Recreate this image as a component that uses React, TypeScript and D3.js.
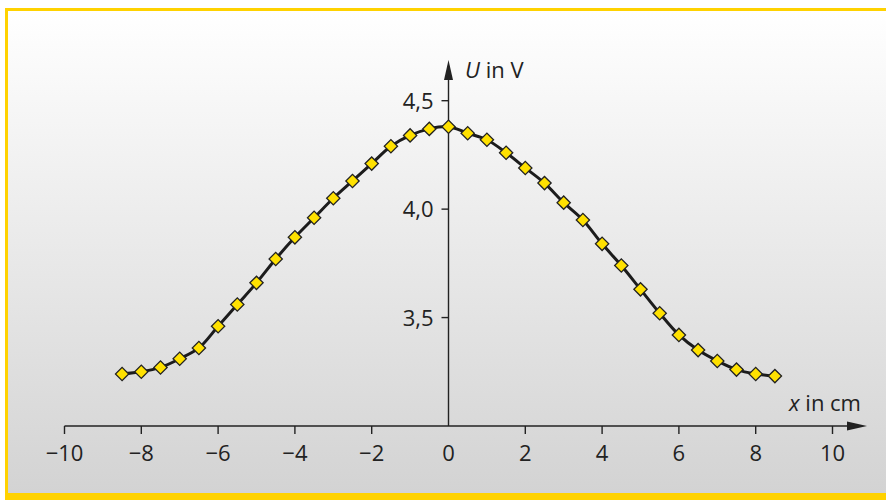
import React from "react";
import * as d3 from "d3";

// Measured potential U along the x axis
const positions = [
  -8.5, -8, -7.5, -7, -6.5, -6, -5.5, -5, -4.5, -4, -3.5, -3, -2.5, -2, -1.5, -1, -0.5,
  0, 0.5, 1, 1.5, 2, 2.5, 3, 3.5, 4, 4.5, 5, 5.5, 6, 6.5, 7, 7.5, 8, 8.5,
];
const voltages = [
  3.24, 3.25, 3.27, 3.31, 3.36, 3.46, 3.56, 3.66, 3.77, 3.87, 3.96, 4.05, 4.13, 4.21, 4.29, 4.34, 4.37,
  4.38, 4.35, 4.32, 4.26, 4.19, 4.12, 4.03, 3.95, 3.84, 3.74, 3.63, 3.52, 3.42, 3.35, 3.30, 3.26, 3.24, 3.23,
];
const xTicks = [-10, -8, -6, -4, -2, 0, 2, 4, 6, 8, 10];
const yTicks = [3.5, 4.0, 4.5];

const W = 886;
const H = 500;
const FONT = "'Open Sans', 'Noto Sans', sans-serif";
const INK = "#222";

export default function App() {
  const x = d3.scaleLinear().domain([-10, 10]).range([64.5, 832.5]);
  const y = d3.scaleLinear().domain([3.0, 4.5]).range([426, 100.7]);

  const pts = positions.map((p, i) => [p, voltages[i]] as [number, number]);
  const line = d3
    .line<[number, number]>()
    .x((d) => x(d[0]))
    .y((d) => y(d[1]))
    .curve(d3.curveCatmullRom.alpha(0.5));

  const diamond = d3.symbol().type(d3.symbolSquare).size(88)()!;
  const fmt = (v: number) => v.toFixed(1).replace(".", ",");
  const fmtX = (v: number) => (v < 0 ? "\u2212" + Math.abs(v) : String(v));

  const x0 = x(0);
  const yAxisBase = y(3.0);
  const yTop = 60;
  const xEnd = 867;

  return (
    <div style={{ position: "absolute", left: 0, top: 0 }}>
      <svg width={W} height={H} style={{ display: "block" }}>
        <defs>
          <linearGradient id="panelBg" x1="0" y1="0" x2="0" y2="1">
            <stop offset="0" stopColor="#ffffff" />
            <stop offset="1" stopColor="#d3d3d3" />
          </linearGradient>
        </defs>
        <rect x={0} y={0} width={W} height={H} fill="#ffffff" />
        <rect x={5} y={8} width={W - 5} height={H - 8} fill="#ffd200" />
        <rect x={8} y={11} width={W - 8} height={482} fill="url(#panelBg)" />

        {/* x axis */}
        <line x1={x(-10)} x2={xEnd - 14} y1={yAxisBase} y2={yAxisBase} stroke={INK} strokeWidth={1.4} />
        <path
          d={`M${xEnd},${yAxisBase} L${xEnd - 20},${yAxisBase - 4.5} L${xEnd - 20},${yAxisBase + 4.5} Z`}
          fill={INK}
        />
        {xTicks.map((t) => (
          <g key={t}>
            {t !== 0 && (
              <line x1={x(t)} x2={x(t)} y1={yAxisBase} y2={yAxisBase + 8} stroke={INK} strokeWidth={1.4} />
            )}
            <text
              x={x(t)}
              y={460.5}
              textAnchor="middle"
              fontFamily={FONT}
              fontSize={22}
              fill={INK}
            >
              {fmtX(t)}
            </text>
          </g>
        ))}
        <text x={861} y={410.5} textAnchor="end" fontFamily={FONT} fontSize={22} fill={INK}>
          <tspan fontStyle="italic">x</tspan> in cm
        </text>

        {/* y axis */}
        <line x1={x0} x2={x0} y1={yAxisBase} y2={yTop + 14} stroke={INK} strokeWidth={1.4} />
        <path d={`M${x0},${yTop} L${x0 - 4.5},${yTop + 20} L${x0 + 4.5},${yTop + 20} Z`} fill={INK} />
        {yTicks.map((t) => (
          <g key={t}>
            <line x1={x0 - 7} x2={x0} y1={y(t)} y2={y(t)} stroke={INK} strokeWidth={1.4} />
            <text
              x={x0 - 15}
              y={y(t) + 8}
              textAnchor="end"
              fontFamily={FONT}
              fontSize={22}
              fill={INK}
            >
              {fmt(t)}
            </text>
          </g>
        ))}
        <text x={465} y={77.5} fontFamily={FONT} fontSize={22} fill={INK}>
          <tspan fontStyle="italic">U</tspan> in V
        </text>

        {/* curve and measurement points */}
        <path d={line(pts)!} fill="none" stroke="#1c1c1c" strokeWidth={3} />
        {pts.map((d, i) => (
          <path
            key={i}
            d={diamond}
            transform={`translate(${x(d[0])},${y(d[1])}) rotate(45)`}
            fill="#ffe100"
            stroke="#222"
            strokeWidth={1.3}
          />
        ))}
      </svg>
    </div>
  );
}
